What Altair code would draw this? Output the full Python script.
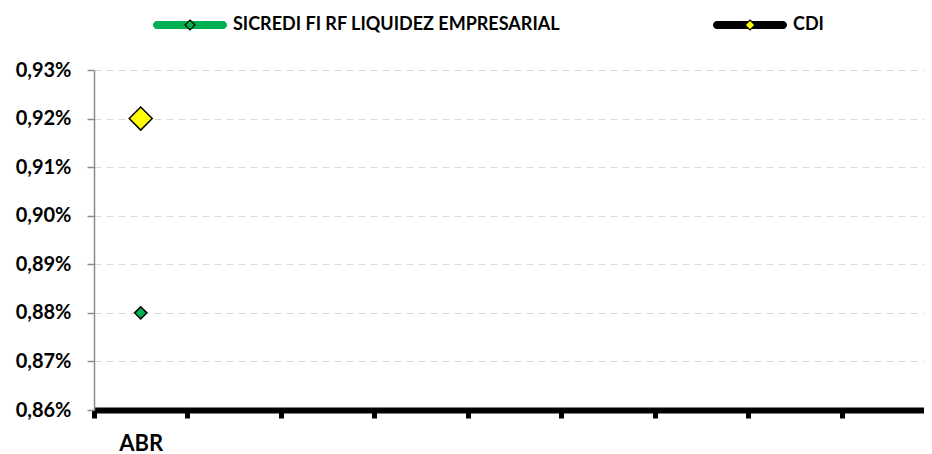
import altair as alt
import pandas as pd

months = ["ABR", "MAI", "JUN", "JUL", "AGO", "SET", "OUT", "NOV", "DEZ"]
data_months = ["ABR"]
series = ["SICREDI FI RF LIQUIDEZ EMPRESARIAL", "CDI"]
sicredi = [0.88]
cdi = [0.92]
y_ticks = [0.86, 0.87, 0.88, 0.89, 0.90, 0.91, 0.92, 0.93]

rows = []
for m, v in zip(data_months, sicredi):
    rows.append({"mes": m, "serie": series[0], "valor": v})
for m, v in zip(data_months, cdi):
    rows.append({"mes": m, "serie": series[1], "valor": v})
df = pd.DataFrame(rows)

GREEN = "#00b050"
YELLOW = "#ffff00"
FONT = "Lato"

BAR_PATH = ("M-0.2,-0.8 L13.0,-0.8 A0.8,0.8 0 0 1 13.0,0.8 "
            "L-0.2,0.8 A0.8,0.8 0 0 1 -0.2,-0.8 Z")
DIAMOND_PATH = "M6.4,-1 L7.4,0 L6.4,1 L5.4,0 Z"

legend_common = dict(
    orient="none", legendX=55, legendY=-54, direction="horizontal",
    title=None, symbolSize=100, labelOffset=66, columnPadding=148,
    labelFont=FONT, labelFontSize=18, labelFontWeight="bold",
    labelColor="black", padding=0, labelLimit=0,
)

x_enc = alt.X(
    "mes:N",
    scale=alt.Scale(domain=months, paddingInner=0, paddingOuter=0, range=[0, 841]),
    sort=months,
    axis=alt.Axis(
        title=None, domainColor="black", domainWidth=6, tickColor="black",
        tickWidth=5, tickSize=8, tickBand="extent", labelAngle=0,
        labelFont=FONT, labelFontSize=22, labelFontWeight="bold",
        labelColor="black", labelPadding=15, grid=False,
        labelExpr="indexof(" + str(data_months) + ", datum.value) >= 0 ? datum.value : ''",
    ),
)
y_enc = alt.Y(
    "valor:Q",
    scale=alt.Scale(domain=[y_ticks[0], y_ticks[-1]], nice=False, zero=False),
    axis=alt.Axis(
        title=None, values=y_ticks,
        labelExpr="replace(format(datum.value, '.2f'), '.', ',') + '%'",
        labelFont=FONT, labelFontSize=20, labelFontWeight="bold",
        labelColor="black", labelPadding=16, tickSize=7, tickColor="#8c8c8c",
        tickWidth=1.5, domainColor="#8c8c8c", domainWidth=1.5,
        grid=True, gridColor="#d9d9d9", gridDash=[7, 5], gridWidth=1,
    ),
)

legend_bars = alt.Legend(symbolType=BAR_PATH, labelOpacity=0,
                         symbolStrokeWidth=0, **legend_common)
legend_diamonds = alt.Legend(symbolType=DIAMOND_PATH, symbolStrokeColor="black",
                             symbolStrokeWidth=1.2, **legend_common)

bars_layer = alt.Chart(df).mark_point(filled=True, size=0, opacity=1).encode(
    x=x_enc, y=y_enc,
    color=alt.Color("serie:N", scale=alt.Scale(domain=series, range=[GREEN, "black"]),
                    legend=legend_bars, sort=series),
)

points_layer = alt.Chart(df).mark_point(
    filled=True, shape="diamond", stroke="black", strokeWidth=1.5, opacity=1
).encode(
    x=x_enc, y=y_enc,
    fill=alt.Fill("serie:N", scale=alt.Scale(range=[GREEN, YELLOW]),
                  legend=legend_diamonds, sort=series),
    size=alt.condition(f"datum.serie == '{series[1]}'", alt.value(529), alt.value(150)),
)

chart = alt.layer(bars_layer, points_layer).properties(
    width=830, height=340,
    autosize=alt.AutoSizeParams(type="none"),
    padding={"left": 86, "top": 62, "right": 0, "bottom": 44},
    background="white",
).configure_view(stroke=None)

chart.save("out.html", embed_options={"renderer": "svg", "actions": False})
